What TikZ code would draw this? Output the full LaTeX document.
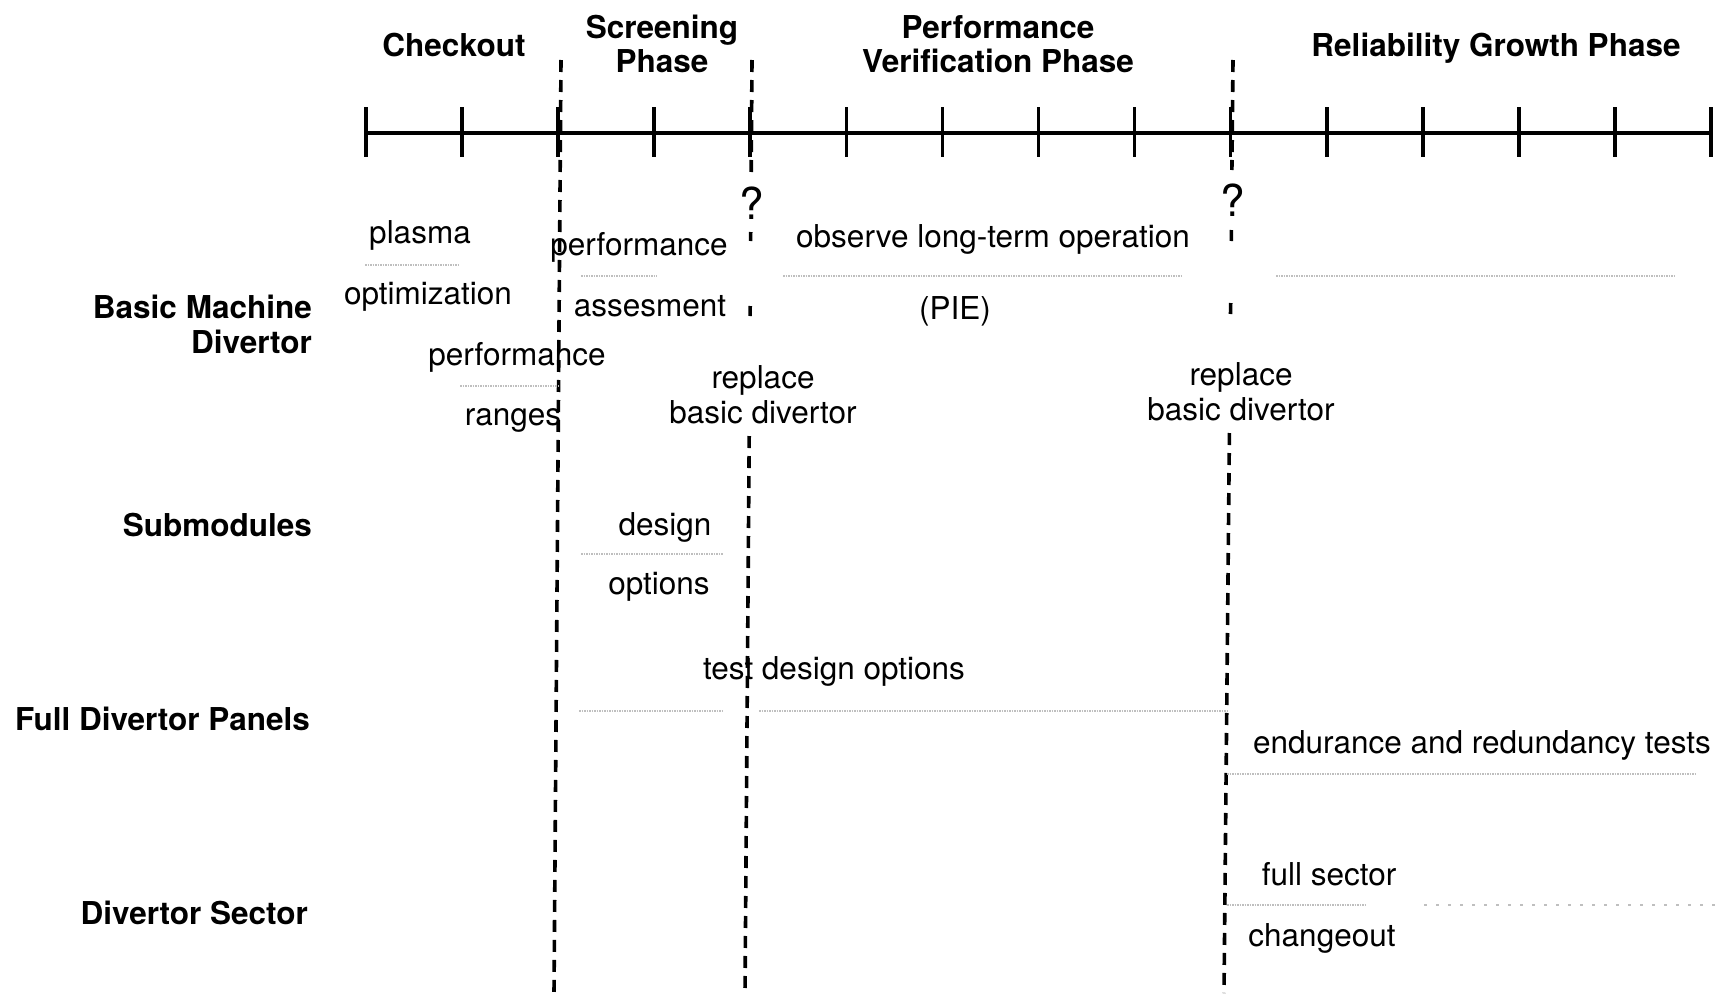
\documentclass[tikz,border=0pt]{standalone}
\usepackage{fontspec}
\setmainfont{TeX Gyre Heros}
\usetikzlibrary{calc}
\begin{document}
\begin{tikzpicture}[x=1pt,y=-1pt,
  lbl/.style={anchor=base,inner sep=0pt,font=\fontsize{31.5}{35}\selectfont},
  head/.style={lbl,font=\fontsize{31.5}{35}\selectfont\bfseries},
  rowlbl/.style={head,anchor=base east},
  query/.style={lbl,font=\fontsize{44}{48}\selectfont},
  phaseline/.style={line width=3.6pt,dash pattern=on 12pt off 8pt},
  phasemark/.style={line width=3.6pt},
  axisline/.style={line width=3.6pt},
  sep/.style={draw=gray!50,line width=2pt,dash pattern=on 1.5pt off 1pt},
  sparsesep/.style={draw=gray!50,line width=2pt,dash pattern=on 3pt off 9pt}]
\useasboundingbox (0,0) rectangle (1718,993);

% time axis with 15 ticks
\coordinate (ax0) at (366,133);
\coordinate (ax1) at (1711,133);
\draw[axisline] (ax0) -- (ax1);
\foreach \i in {0,...,14}{
  \draw[axisline] ({366+96.07*\i},107) -- ({366+96.07*\i},157);
}

% phase headings
\node[head] (checkout) at (454,56) {Checkout};
\node[head] (scr1) at (662,38) {Screening};
\node[head] (scr2) at (662,72) {Phase};
\node[head] (pv1) at (998,38) {Performance};
\node[head] (pv2) at (998,72) {Verification Phase};
\node[head] (rel) at (1496,56) {Reliability Growth Phase};

% row labels
\node[rowlbl] (bm1) at (312,318) {Basic Machine};
\node[rowlbl] (bm2) at (312,353) {Divertor};
\node[rowlbl] (sub) at (312,536) {Submodules};
\node[rowlbl] (fdp) at (310,730) {Full Divertor Panels};
\node[rowlbl] (ds) at (308,924) {Divertor Sector};

% phase boundaries
\coordinate (b1top) at (561,60);
\coordinate (b1bot) at (554,993);
\draw[phaseline] (b1top) -- (b1bot);

\coordinate (b2top) at (752,60);
\coordinate (b2a) at (751.2,172);
\coordinate (b2b) at (750.7,232);
\coordinate (b2c) at (750.6,241);
\coordinate (b2d) at (750.2,306);
\coordinate (b2e) at (750.1,316);
\coordinate (b2f) at (749.2,436);
\coordinate (b2bot) at (745,993);
\draw[phaseline] (b2top) -- (b2a);
\draw[phasemark] (b2b) -- (b2c);
\draw[phasemark] (b2d) -- (b2e);
\draw[phaseline] (b2f) -- (b2bot);

\coordinate (b3top) at (1233,60);
\coordinate (b3a) at (1231.9,170);
\coordinate (b3b) at (1231.4,230);
\coordinate (b3c) at (1231.3,241);
\coordinate (b3d) at (1230.7,303);
\coordinate (b3e) at (1230.5,314);
\coordinate (b3f) at (1229.4,433);
\coordinate (b3bot) at (1224,993);
\draw[phaseline] (b3top) -- (b3a);
\draw[phasemark] (b3b) -- (b3c);
\draw[phasemark] (b3d) -- (b3e);
\draw[phaseline] (b3f) -- (b3bot);

\node[query] (q1) at (752,219) {?};
\node[query] (q2) at (1233,216) {?};

% Basic Machine Divertor row
\node[lbl] (plasma) at (420,243) {plasma};
\node[lbl] (optim) at (428,304) {optimization};
\node[lbl] (perfA) at (639,255) {performance};
\node[lbl] (assess) at (650,316) {assesment};
\node[lbl] (perfB) at (517,365) {performance};
\node[lbl] (ranges) at (513,425) {ranges};
\node[lbl] (observe) at (993,247) {observe long-term operation};
\node[lbl] (pie) at (955,319) {(PIE)};
\node[lbl] (repA1) at (763,388) {replace};
\node[lbl] (repA2) at (763,423) {basic divertor};
\node[lbl] (repB1) at (1241,385) {replace};
\node[lbl] (repB2) at (1241,420) {basic divertor};

% Submodules row
\node[lbl] (design) at (665,535) {design};
\node[lbl] (options) at (659,594) {options};

% Full Divertor Panels row
\node[lbl] (tdo) at (834,679) {test design options};
\node[lbl] (endur) at (1482,753) {endurance and redundancy tests};

% Divertor Sector row
\node[lbl] (fsec) at (1329,885) {full sector};
\node[lbl] (chg) at (1322,946) {changeout};

% grey separators between paired labels
\draw[sep] (365,265) -- (460,265);
\draw[sep] (581,276) -- (657,276);
\draw[sep] (460,386) -- (559,386);
\draw[sep] (783,276) -- (1183,276);
\draw[sep] (1276,276) -- (1676,276);
\draw[sep] (581,554) -- (723,554);
\draw[sep] (579,711) -- (723,711);
\draw[sep] (759,711) -- (1227,711);
\draw[sep] (1227,774) -- (1696,774);
\draw[sep] (1227,905) -- (1367,905);
\draw[sparsesep] (1424,905) -- (1718,905);
\end{tikzpicture}
\end{document}
